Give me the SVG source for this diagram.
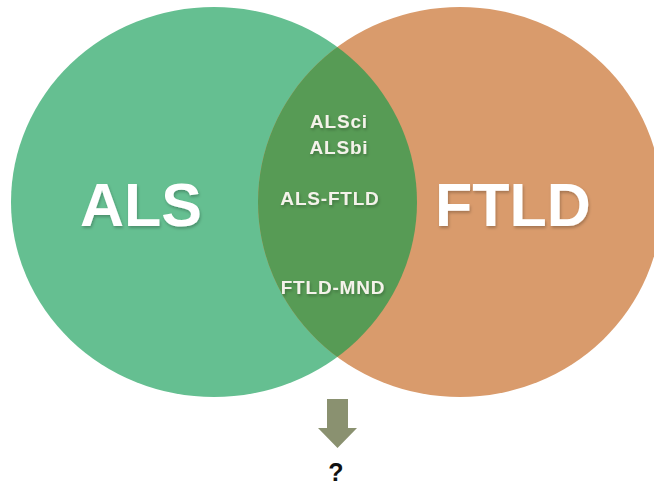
<svg xmlns="http://www.w3.org/2000/svg" width="654" height="491" viewBox="0 0 654 491">
  <style>
    .big { font-family: "Liberation Sans", Arial, sans-serif; font-weight: bold; font-size: 61px; fill: #FFFFFF; text-anchor: middle; }
    .small { font-family: "Liberation Sans", Arial, sans-serif; font-weight: bold; font-size: 19px; letter-spacing: 0.8px; fill: #F4F2EA; text-anchor: middle; }
    .q { font-family: "Liberation Sans", Arial, sans-serif; font-weight: bold; font-size: 25px; fill: #111111; text-anchor: middle; }
  </style>
  <defs>
    <clipPath id="clipGreen">
      <ellipse cx="214" cy="202" rx="203" ry="195"/>
    </clipPath>
    <filter id="shadow" x="-10%" y="-10%" width="120%" height="130%">
      <feDropShadow dx="1" dy="2" stdDeviation="1.5" flood-color="#000000" flood-opacity="0.25"/>
    </filter>
  </defs>
  <rect width="654" height="491" fill="#FFFFFF"/>
  <g id="als">
    <ellipse cx="214" cy="202" rx="203" ry="195" fill="#65BF91"/>
  </g>
  <g id="ftld">
    <ellipse cx="460" cy="202" rx="202" ry="195" fill="#D99B6C"/>
  </g>
  <g id="overlap">
    <ellipse cx="460" cy="202" rx="202" ry="195" fill="#579B55" clip-path="url(#clipGreen)"/>
  </g>
  <g id="labels-big" filter="url(#shadow)">
    <text class="big" x="141" y="226">ALS</text>
    <text class="big" x="513" y="226">FTLD</text>
  </g>
  <g id="labels-overlap" filter="url(#shadow)">
    <text class="small" x="339" y="128">ALSci</text>
    <text class="small" x="339" y="154">ALSbi</text>
    <text class="small" x="330" y="205">ALS-FTLD</text>
    <text class="small" x="333" y="294">FTLD-MND</text>
  </g>
  <g id="connectors">
    <polygon points="327,399 348,399 348,428 357,428 337.5,448 318,428 327,428" fill="#8A9170"/>
  </g>
  <g id="question">
    <text class="q" x="336" y="481">?</text>
  </g>
</svg>
